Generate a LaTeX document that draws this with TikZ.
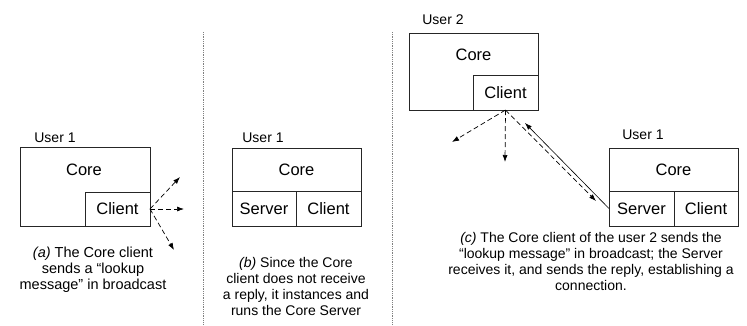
\documentclass[tikz,border=0pt]{standalone}
\usepackage{fontspec}
\setmainfont{Liberation Sans}
\usetikzlibrary{arrows.meta}
\begin{document}
\begin{tikzpicture}[x=1pt,y=-1pt,
  box/.style={draw=black!85, line width=0.8pt, inner sep=0pt, outer sep=0pt, anchor=north west},
  lbl/.style={font=\fontsize{16.5}{18}\selectfont, inner sep=0pt},
  usr/.style={font=\fontsize{14}{16}\selectfont, inner sep=0pt},
  capt/.style={font=\fontsize{14}{16}\selectfont, align=center, inner sep=0pt, anchor=north},
  sepline/.style={draw=gray, densely dotted, line width=0.8pt},
  msg/.style={dash pattern=on 5pt off 3pt, -{Latex[length=7pt,width=5pt]}, line width=0.7pt},
  rep/.style={-{Latex[length=7pt,width=5pt]}, line width=0.6pt}]
\useasboundingbox (0,0) rectangle (747,325);

% separators
\coordinate (s1t) at (203,32); \coordinate (s1b) at (203,325);
\coordinate (s2t) at (392,32); \coordinate (s2b) at (392,325);
\draw[sepline] (s1t) -- (s1b);
\draw[sepline] (s2t) -- (s2b);

% ---------- panel (a)
\node[box, minimum width=130pt, minimum height=79pt] (acore) at (20,147) {};
\node[box, minimum width=65pt, minimum height=34pt, anchor=south east] (aclient) at (acore.south east) {};
\node[lbl] (acoretxt) at (84,170) {Core};
\node[lbl] (aclienttxt) at (aclient.center) {Client};
\node[usr] (auser) at (55,138) {User 1};
\coordinate (a1) at (180,177);
\coordinate (a2) at (184,209);
\coordinate (a3) at (174,250);
\draw[msg] (aclient.east) -- (a1);
\draw[msg] (aclient.east) -- (a2);
\draw[msg] (aclient.east) -- (a3);
\node[capt, font=\fontsize{14.5}{16}\selectfont] (acap) at (93,247) {\textit{(a)} The Core client\\sends a “lookup\\message” in broadcast};

% ---------- panel (b)
\node[box, minimum width=129pt, minimum height=78pt] (bcore) at (232,148) {};
\node[box, minimum width=64pt, minimum height=35pt, anchor=south west] (bserver) at (bcore.south west) {};
\node[box, minimum width=65pt, minimum height=35pt, anchor=south east] (bclient) at (bcore.south east) {};
\node[lbl] (bcoretxt) at (296.5,170) {Core};
\node[lbl] (bservertxt) at (bserver.center) {Server};
\node[lbl] (bclienttxt) at (bclient.center) {Client};
\node[usr] (buser) at (263,138) {User 1};
\node[capt] (bcap) at (296,257) {\textit{(b)} Since the Core\\client does not receive\\a reply, it instances and\\runs the Core Server};

% ---------- panel (c)
\node[box, minimum width=129pt, minimum height=77pt] (ccore2) at (409,33) {};
\node[box, minimum width=65pt, minimum height=35pt, anchor=south east] (cclient2) at (ccore2.south east) {};
\node[lbl] (ccore2txt) at (473.5,55) {Core};
\node[lbl] (cclient2txt) at (cclient2.center) {Client};
\node[usr] (cuser2) at (443,20) {User 2};

\node[box, minimum width=129pt, minimum height=78pt] (ccore1) at (609,148) {};
\node[box, minimum width=65pt, minimum height=35pt, anchor=south west] (cserver1) at (ccore1.south west) {};
\node[box, minimum width=64pt, minimum height=35pt, anchor=south east] (cclient1) at (ccore1.south east) {};
\node[lbl] (ccore1txt) at (673.5,170) {Core};
\node[lbl] (cserver1txt) at (cserver1.center) {Server};
\node[lbl] (cclient1txt) at (cclient1.center) {Client};
\node[usr] (cuser1) at (643,135) {User 1};

\coordinate (c1) at (452,142);
\coordinate (c2) at (505,162);
\coordinate (c3) at (596,201);
\coordinate (c4) at (525,123);
\draw[msg] (cclient2.south) -- (c1);
\draw[msg] (cclient2.south) -- (c2);
\draw[msg] (cclient2.south) -- (c3);
\draw[rep] (cserver1.west) -- (c4);
\node[capt] (ccap) at (591,232) {\textit{(c)} The Core client of the user 2 sends the\\“lookup message” in broadcast; the Server\\receives it, and sends the reply, establishing a\\connection.};
\end{tikzpicture}
\end{document}
